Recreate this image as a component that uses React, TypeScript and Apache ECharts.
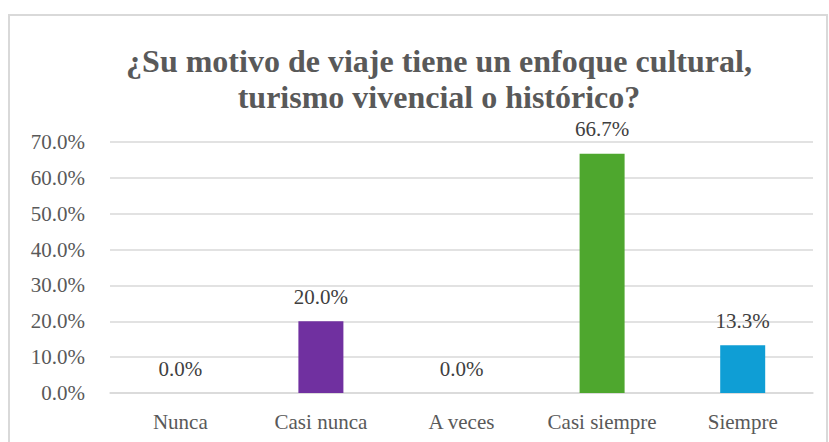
import React, { useEffect, useRef } from "react";
import * as echarts from "echarts";

const categories = ["Nunca", "Casi nunca", "A veces", "Casi siempre", "Siempre"];
const values = [0.0, 20.0, 0.0, 66.7, 13.3];
const barColors = ["#7030A0", "#7030A0", "#A5A5A5", "#4EA72E", "#0F9ED5"];
const titleLines = [
  "¿Su motivo de viaje tiene un enfoque cultural,",
  "turismo vivencial o histórico?",
];
const yMin = 0;
const yMax = 70;
const yInterval = 10;

export default function App() {
  const ref = useRef<HTMLDivElement>(null);
  useEffect(() => {
    document.body.style.margin = "0";
    if (!ref.current) return;
    const chart = echarts.init(ref.current, null, { renderer: "svg" });
    const font = "Liberation Serif";
    chart.setOption({
      animation: false,
      backgroundColor: "#ffffff",
      title: {
        text: titleLines.join("\n"),
        left: 439,
        top: 43,
        padding: 0,
        textAlign: "center",
        textStyle: {
          fontFamily: font,
          fontWeight: "bold",
          fontSize: 32,
          lineHeight: 36,
          color: "#595959",
        },
      },
      graphic: [
        {
          type: "rect",
          shape: { x: 9, y: 15, width: 818, height: 440 },
          style: { fill: "none", stroke: "#d9d9d9", lineWidth: 2 },
          silent: true,
          z: -1,
        },
      ],
      grid: { left: 110, right: 16, top: 142, bottom: 49, containLabel: false },
      xAxis: {
        type: "category",
        data: categories,
        axisLine: { show: true, lineStyle: { color: "#d9d9d9", width: 1.5 } },
        axisTick: { show: false },
        axisLabel: {
          interval: 0,
          fontFamily: font,
          fontSize: 21,
          color: "#595959",
          margin: 18,
        },
      },
      yAxis: {
        type: "value",
        min: yMin,
        max: yMax,
        interval: yInterval,
        axisLine: { show: false },
        axisTick: { show: false },
        splitLine: { show: true, lineStyle: { color: "#d9d9d9", width: 1.5 } },
        axisLabel: {
          fontFamily: font,
          fontSize: 21,
          color: "#595959",
          margin: 25,
          formatter: (v: number) => v.toFixed(1) + "%",
        },
      },
      series: [
        {
          type: "bar",
          barWidth: 45,
          data: values.map((v, i) => ({
            value: v,
            itemStyle: { color: barColors[i] },
          })),
          label: {
            show: true,
            position: "top",
            distance: 14,
            fontFamily: font,
            fontSize: 21,
            color: "#404040",
            formatter: (p: any) => Number(p.value).toFixed(1) + "%",
          },
        },
      ],
    });
    return () => chart.dispose();
  }, []);
  return <div ref={ref} style={{ width: 829, height: 442 }} />;
}
